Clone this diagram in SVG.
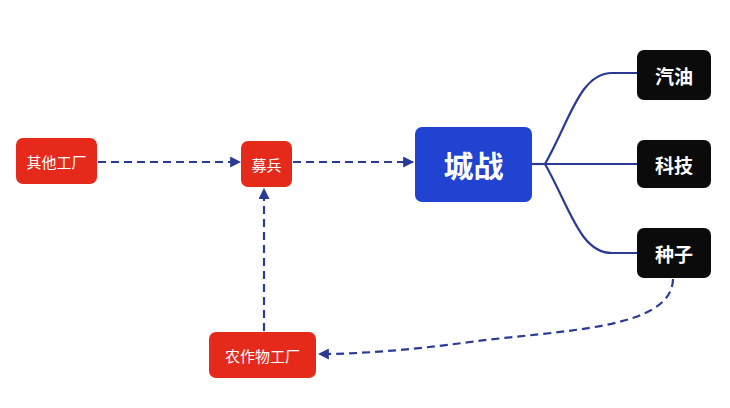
<svg xmlns="http://www.w3.org/2000/svg" width="730" height="408" viewBox="0 0 730 408">
<defs>
<style>
.red{fill:#E52A1B}
.blk{fill:#0B0B0B}
.blue{fill:#2143D2}
.t{font-family:"Noto Sans CJK SC","Noto Sans",sans-serif;fill:#fff;text-anchor:middle;dominant-baseline:central}
.tr{font-size:15px;font-weight:400}
.tb{font-size:19px;font-weight:700}
.tc{font-size:30px;font-weight:700}
.dash{fill:none;stroke:#2B3A93;stroke-width:2.2;stroke-dasharray:8 5}
.solid{fill:none;stroke:#2B3A93;stroke-width:2.2}
</style>
<marker id="ah" viewBox="0 0 10 10" refX="9" refY="5" markerWidth="5" markerHeight="5" orient="auto" markerUnits="strokeWidth">
<path d="M0,0 L10,5 L0,10 z" fill="#2B3A93"/>
</marker>
</defs>
<rect width="730" height="408" fill="#fff"/>
<g id="connectors">
<path class="dash" d="M98,162 L240,162" marker-end="url(#ah)"/>
<path class="dash" d="M293,162 L413,162" marker-end="url(#ah)"/>
<path class="dash" d="M264,331 L264,189" marker-end="url(#ah)"/>
<path class="dash" d="M673,279 C672,330 560,330 470,342 C410,350 360,354 319,354" marker-end="url(#ah)"/>
<path class="solid" d="M532,164 L545,164"/>
<path class="solid" d="M545,164 C570,120 580,73 612,73 L637,73"/>
<path class="solid" d="M545,164 L637,164"/>
<path class="solid" d="M545,164 C570,208 580,253 612,253 L637,253"/>
</g>
<g id="n-qita"><rect class="red" x="16" y="138" width="81" height="46" rx="7"/><text class="t tr" x="56.5" y="161">其他工厂</text></g>
<g id="n-mubing"><rect class="red" x="241" y="141" width="51" height="46" rx="7"/><text class="t tr" x="266.5" y="164">募兵</text></g>
<g id="n-chengzhan"><rect class="blue" x="415" y="127" width="117" height="75" rx="7"/><text class="t tc" x="473.5" y="164">城战</text></g>
<g id="n-qiyou"><rect class="blk" x="637" y="50" width="74" height="50" rx="7"/><text class="t tb" x="674" y="75">汽油</text></g>
<g id="n-keji"><rect class="blk" x="637" y="140" width="74" height="48" rx="7"/><text class="t tb" x="674" y="164">科技</text></g>
<g id="n-zhongzi"><rect class="blk" x="637" y="228" width="74" height="50" rx="7"/><text class="t tb" x="674" y="253">种子</text></g>
<g id="n-nongzuowu"><rect class="red" x="209" y="332" width="107" height="46" rx="7"/><text class="t tr" x="262.5" y="355">农作物工厂</text></g>
</svg>
